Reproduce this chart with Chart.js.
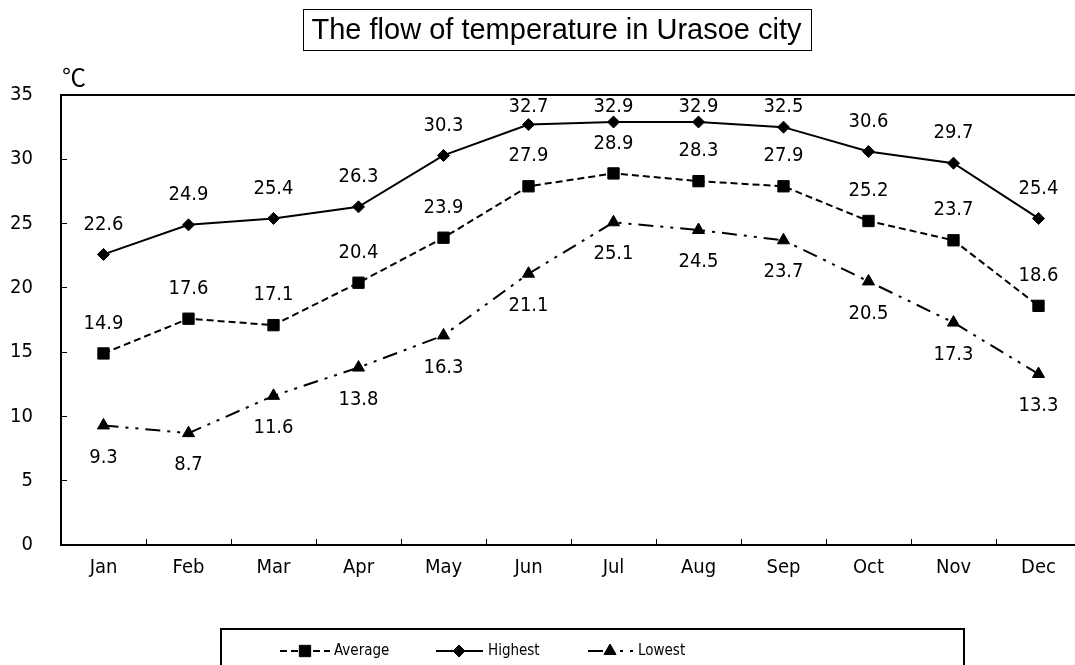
<!DOCTYPE html>
<html><head><meta charset="utf-8">
<script src="https://cdn.jsdelivr.net/npm/chart.js@4.4.1/dist/chart.umd.min.js"></script>
<style>html,body{margin:0;padding:0;overflow:hidden;background:#fff;width:1075px;height:665px}canvas{display:block}</style>
</head><body>
<canvas id="c" width="1090" height="665" style="width:1090px;height:665px"></canvas>
<script>
const months = ['Jan','Feb','Mar','Apr','May','Jun','Jul','Aug','Sep','Oct','Nov','Dec'];
const averageTemps = [14.9, 17.6, 17.1, 20.4, 23.9, 27.9, 28.9, 28.3, 27.9, 25.2, 23.7, 18.6];
const highestTemps = [22.6, 24.9, 25.4, 26.3, 30.3, 32.7, 32.9, 32.9, 32.5, 30.6, 29.7, 25.4];
const lowestTemps  = [9.3, 8.7, 11.6, 13.8, 16.3, 21.1, 25.1, 24.5, 23.7, 20.5, 17.3, 13.3];
const seriesNames = ['Average', 'Highest', 'Lowest'];
const yMin = 0, yMax = 35, yStep = 5;
const chartTitle = 'The flow of temperature in Urasoe city';
const unitLabel = '℃';

const NARROW = '"Liberation Sans Narrow", "DejaVu Sans Condensed", "Liberation Sans", sans-serif';

const decor = {
  id: 'decor',
  afterDraw(chart) {
    const ctx = chart.ctx, a = chart.chartArea;
    ctx.save();
    // plot frame
    ctx.strokeStyle = '#000'; ctx.lineWidth = 2;
    ctx.strokeRect(a.left, a.top, a.right - a.left, a.bottom - a.top);
    // title with box
    ctx.font = '29px "Liberation Sans", Arial, sans-serif';
    ctx.fillStyle = '#000'; ctx.textAlign = 'center'; ctx.textBaseline = 'middle';
    const tx = 556.5, ty = 31;
    const tw = ctx.measureText(chartTitle).width;
    ctx.fillText(chartTitle, tx, ty);
    ctx.lineWidth = 1;
    ctx.strokeRect(Math.round(tx - tw/2 - 9) + 0.5, 9.5, Math.round(tw + 18), 41);
    // unit
    ctx.font = '24px "Noto Sans CJK JP", "DejaVu Sans", sans-serif';
    ctx.textAlign = 'center';
    ctx.fillText(unitLabel, 74, 77);
    // legend box
    ctx.lineWidth = 2;
    ctx.strokeRect(221, 629, 743, 60);
    const items = [
      {x0: 280, x1: 330, mx: 305, tx: 334},
      {x0: 436, x1: 483, mx: 459, tx: 488},
      {x0: 588, x1: 633, mx: 610, tx: 638}
    ];
    const ly = 651;
    chart.data.datasets.forEach((ds, i) => {
      const it = items[i];
      ctx.save();
      ctx.strokeStyle = '#000'; ctx.lineWidth = ds.borderWidth;
      ctx.setLineDash(ds.borderDash || []);
      ctx.beginPath(); ctx.moveTo(it.x0, ly); ctx.lineTo(it.x1, ly); ctx.stroke();
      ctx.setLineDash([]);
      ctx.fillStyle = '#000'; ctx.lineWidth = 1;
      Chart.helpers.drawPoint(ctx, {pointStyle: ds.pointStyle, radius: ds.pointRadius, rotation: 0, borderWidth: 1}, it.mx, ly);
      ctx.restore();
      ctx.font = '15px ' + NARROW;
      ctx.fillStyle = '#000'; ctx.textAlign = 'left'; ctx.textBaseline = 'middle';
      ctx.fillText(ds.label, it.tx, ly);
    });
    ctx.restore();
  },
  afterDatasetsDraw(chart) {
    const ctx = chart.ctx, a = chart.chartArea;
    ctx.save();
    ctx.font = '20px ' + NARROW;
    ctx.fillStyle = '#000'; ctx.textAlign = 'center'; ctx.textBaseline = 'middle';
    chart.data.datasets.forEach((ds, i) => {
      const meta = chart.getDatasetMeta(i);
      meta.data.forEach((pt, j) => {
        let y = ds.labelSide === 'below' ? pt.y + 32 : pt.y - 30;
        if (y < a.top + 12) y = a.top + 12;
        ctx.fillText(ds.data[j].toFixed(1), pt.x, y);
      });
    });
    ctx.restore();
  }
};

new Chart(document.getElementById('c'), {
  type: 'line',
  data: {
    labels: months,
    datasets: [
      {label: seriesNames[0], data: averageTemps, borderColor: '#000', backgroundColor: '#000', borderWidth: 2,
       borderDash: [7, 4], pointStyle: 'rect', pointRadius: 8, pointBorderWidth: 1, pointBackgroundColor: '#000', pointBorderColor: '#000', labelSide: 'above', tension: 0},
      {label: seriesNames[1], data: highestTemps, borderColor: '#000', backgroundColor: '#000', borderWidth: 2,
       borderDash: [], pointStyle: 'rectRot', pointRadius: 6, pointBorderWidth: 1, pointBackgroundColor: '#000', pointBorderColor: '#000', labelSide: 'above', tension: 0},
      {label: seriesNames[2], data: lowestTemps, borderColor: '#000', backgroundColor: '#000', borderWidth: 2,
       borderDash: [15, 7, 3, 7, 3, 7], pointStyle: 'triangle', pointRadius: 7, pointBorderWidth: 1, pointBackgroundColor: '#000', pointBorderColor: '#000', labelSide: 'below', tension: 0}
    ]
  },
  options: {
    responsive: false,
    animation: false,
    events: [],
    layout: {padding: {top: 95, left: 0, right: 6, bottom: 0}},
    plugins: {legend: {display: false}, title: {display: false}, tooltip: {enabled: false}},
    scales: {
      x: {
        offset: true,
        grid: {display: true, offset: true, drawOnChartArea: false, drawTicks: true, tickLength: -6, color: '#000', lineWidth: 1},
        border: {display: false},
        ticks: {color: '#000', font: {family: NARROW, size: 20}, padding: 17, maxRotation: 0, autoSkip: false},
        afterFit(s) { s.height = 120; }
      },
      y: {
        min: yMin, max: yMax,
        grid: {display: true, drawOnChartArea: false, drawTicks: true, tickLength: -6, color: '#000', lineWidth: 1},
        border: {display: false},
        ticks: {stepSize: yStep, color: '#000', font: {family: NARROW, size: 20}, padding: 34},
        afterFit(s) { s.width = 61; }
      }
    }
  },
  plugins: [decor]
});
</script>
</body></html>
